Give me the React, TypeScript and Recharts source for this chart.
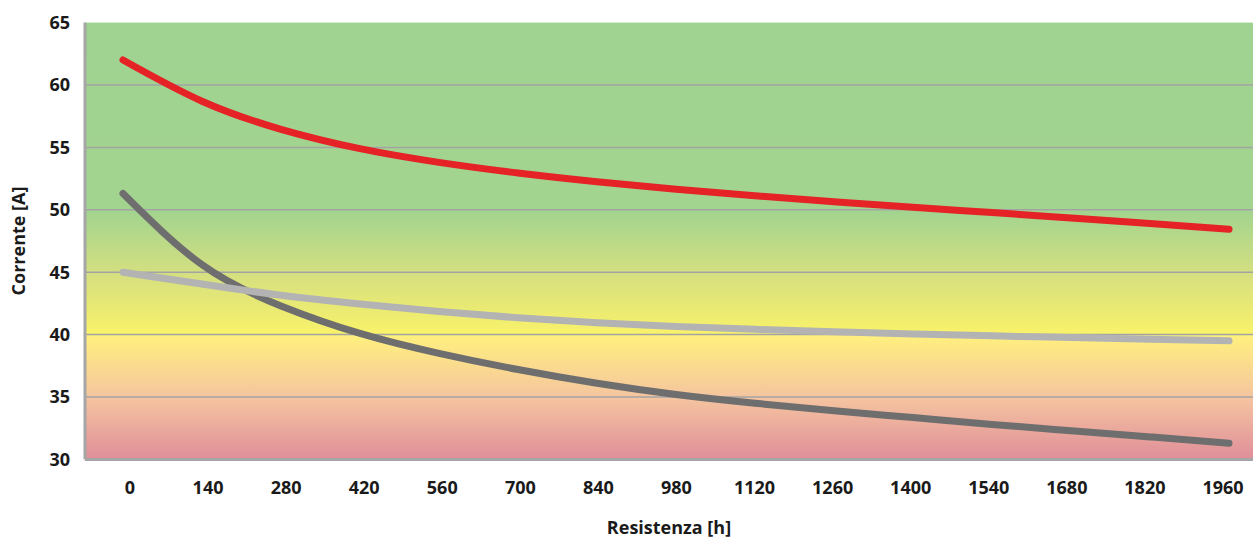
import { CartesianGrid, Line, LineChart, XAxis, YAxis } from 'recharts';

const hours = [0, 140, 280, 420, 560, 700, 840, 980, 1120, 1260, 1400, 1540, 1680, 1820, 1960];
const redSeries = [62.0, 58.7, 56.45, 54.9, 53.8, 52.95, 52.25, 51.65, 51.12, 50.65, 50.2, 49.78, 49.35, 48.9, 48.45];
const darkSeries = [51.3, 45.6, 42.3, 40.1, 38.5, 37.2, 36.1, 35.2, 34.5, 33.9, 33.35, 32.8, 32.3, 31.8, 31.3];
const lightSeries = [45.0, 44.05, 43.15, 42.45, 41.85, 41.35, 40.95, 40.65, 40.42, 40.22, 40.05, 39.9, 39.76, 39.62, 39.5];
const yTicks = [30, 35, 40, 45, 50, 55, 60, 65];
const gridValues = [35, 40, 45, 50, 55, 60];

const data = hours.map((h, i) => ({ h, red: redSeries[i], dark: darkSeries[i], light: lightSeries[i] }));

const tickStyle = { fontSize: 18, fontWeight: 700, fill: '#1a1a1a' };

// category labels sit slightly off the plotted points in the original
const HourTick = (props: any) => {
  const { x, y, payload } = props;
  const shift = 7 - 0.93 * (payload.value / 140);
  return (
    <text x={x + shift} y={y} dy="0.71em" textAnchor="middle" {...tickStyle}>
      {payload.value}
    </text>
  );
};

const YTitle = (props: any) => {
  const vb = props.viewBox || { x: 0, y: 0, height: 0 };
  const cx = vb.x + 18;
  const cy = vb.y + vb.height / 2;
  return (
    <text x={cx} y={cy} transform={`rotate(-90 ${cx} ${cy})`} textAnchor="middle" dominantBaseline="central" fontSize={18} fontWeight={700} fill="#1a1a1a">
      Corrente [A]
    </text>
  );
};

export default function App() {
  return (
    <div style={{ position: 'absolute', left: 0, top: 0, width: 1253, height: 539, background: '#fff', fontFamily: '"Open Sans", sans-serif' }}>
      <LineChart width={1253} height={539} data={data} margin={{ top: 22.6, right: 0, left: 0, bottom: 0 }}>
        <defs>
          <linearGradient id="bg" x1="0" y1="0" x2="0" y2="1">
            <stop offset="0" stopColor="#9fd291" />
            <stop offset="0.434" stopColor="#a3d48f" />
            <stop offset="0.58" stopColor="#d6e07f" />
            <stop offset="0.712" stopColor="#f9f26a" />
            <stop offset="0.716" stopColor="#fff07e" />
            <stop offset="0.86" stopColor="#f5c4a0" />
            <stop offset="1" stopColor="#df8e99" />
          </linearGradient>
        </defs>
        <CartesianGrid fill="url(#bg)" vertical={false} horizontalValues={gridValues} stroke="#a3a3a3" strokeWidth={1.5} />
        <XAxis
          dataKey="h"
          type="number"
          domain={[-67.3, 2002.5]}
          allowDataOverflow
          ticks={hours}
          interval={0}
          height={79.6}
          tickSize={0}
          tickMargin={22}
          tick={<HourTick />}
          axisLine={{ stroke: '#a6a6a6', strokeWidth: 3 }}
          label={{ value: 'Resistenza [h]', position: 'insideBottom', offset: 5, fontSize: 18, fontWeight: 700, fill: '#1a1a1a' }}
        />
        <YAxis
          domain={[30, 65]}
          ticks={yTicks}
          interval={0}
          width={85}
          tickSize={0}
          tickMargin={15}
          tick={tickStyle}
          axisLine={{ stroke: '#a6a6a6', strokeWidth: 3 }}
          label={<YTitle />}
        />
        <Line dataKey="red" type="natural" stroke="#e52226" strokeWidth={7} strokeLinecap="round" dot={false} isAnimationActive={false} />
        <Line dataKey="dark" type="natural" stroke="#6e6e6e" strokeWidth={7} strokeLinecap="round" dot={false} isAnimationActive={false} />
        <Line dataKey="light" type="natural" stroke="#b3b3b3" strokeWidth={7} strokeLinecap="round" dot={false} isAnimationActive={false} />
      </LineChart>
    </div>
  );
}
